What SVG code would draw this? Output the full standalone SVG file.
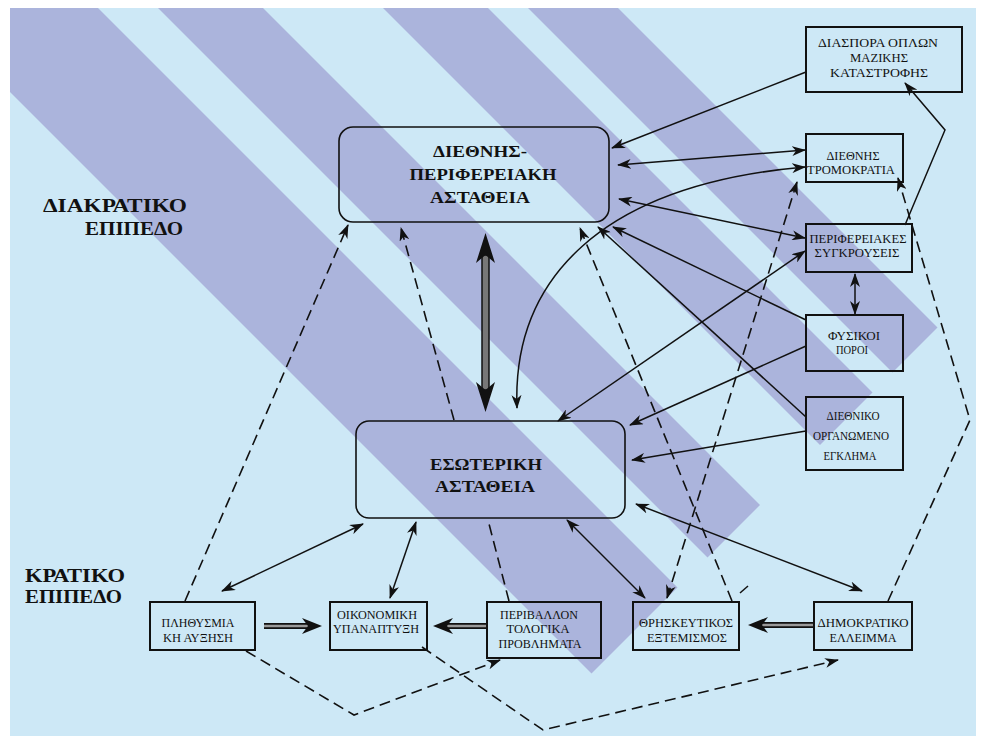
<svg xmlns="http://www.w3.org/2000/svg" width="985" height="742" viewBox="0 0 985 742">
<style>
.bg{fill:#cde8f6}
.stripe{fill:#abb4dc}
.box{fill:none;stroke:#111;stroke-width:2}
.rbox{fill:none;stroke:#111;stroke-width:1.6}
text{font-family:"Liberation Serif","DejaVu Serif",serif;fill:#111}
.t{text-anchor:middle;font-size:12px}
.tb{font-weight:bold;text-anchor:middle;font-size:17px}
.lbl{font-weight:bold;font-size:19px}
.ln{fill:none;stroke:#111;stroke-width:1.5}
.dash{fill:none;stroke:#111;stroke-width:1.6;stroke-dasharray:11 6}
.dbl-o{fill:none;stroke:#111;stroke-width:6}
.dbl-i{fill:none;stroke:#9a9a9a;stroke-width:2.4}
.head{fill:#111}
</style>
<defs>
<clipPath id="panel"><rect x="10" y="8" width="966" height="728"/></clipPath>
<marker id="ah" viewBox="0 0 14 10" refX="13" refY="5" markerWidth="14" markerHeight="10" markerUnits="userSpaceOnUse" orient="auto-start-reverse">
<path d="M0,0 L14,5 L0,10 L4,5 z" fill="#111"/>
</marker>
</defs>
<rect class="bg" x="10" y="8" width="966" height="728"/>
<g clip-path="url(#panel)">
<polygon class="stripe" points="-282,-200 -110,-200 677.5,587.5 591.5,673.5"/>
<polygon class="stripe" points="-50,-200 55,-200 760,505 707.5,557.5"/>
<polygon class="stripe" points="175,-200 280,-200 872.5,392.5 820,445"/>
<polygon class="stripe" points="320,-200 410,-200 937.5,327.5 892.5,372.5"/>
</g>
<g id="labels">
<text class="lbl" x="43" y="212" textLength="144" lengthAdjust="spacingAndGlyphs">ΔΙΑΚΡΑΤΙΚΟ</text>
<text class="lbl" x="85" y="235" textLength="98" lengthAdjust="spacingAndGlyphs">ΕΠΙΠΕΔΟ</text>
<text class="lbl" x="25" y="582" textLength="100" lengthAdjust="spacingAndGlyphs">ΚΡΑΤΙΚΟ</text>
<text class="lbl" x="25" y="603" textLength="97" lengthAdjust="spacingAndGlyphs">ΕΠΙΠΕΔΟ</text>
</g>
<g id="connectors">
<path class="ln" d="M806,72 L612,148" marker-end="url(#ah)"/>
<path class="ln" d="M805,150 L618,165" marker-start="url(#ah)" marker-end="url(#ah)"/>
<path class="ln" d="M805,238 L619,199" marker-start="url(#ah)" marker-end="url(#ah)"/>
<path class="ln" d="M805,251 L558,421" marker-start="url(#ah)" marker-end="url(#ah)"/>
<path class="ln" d="M905,225 L945,130 L905,83" marker-end="url(#ah)"/>
<path class="ln" d="M855,274 L855,314" marker-start="url(#ah)" marker-end="url(#ah)"/>
<path class="ln" d="M806,320 L613,227" marker-end="url(#ah)"/>
<path class="ln" d="M806,346 L630,425" marker-end="url(#ah)"/>
<path class="ln" d="M806,417 L598,227" marker-end="url(#ah)"/>
<path class="ln" d="M806,431 L632,460" marker-end="url(#ah)"/>
<path class="ln" d="M517,408 C512,280 600,185 805,167" marker-start="url(#ah)" marker-end="url(#ah)"/>
<path class="ln" d="M363,524 L222,591" marker-start="url(#ah)" marker-end="url(#ah)"/>
<path class="ln" d="M416,522 L390,598" marker-start="url(#ah)" marker-end="url(#ah)"/>
<path class="ln" d="M567,520 L645,598" marker-start="url(#ah)" marker-end="url(#ah)"/>
<path class="ln" d="M636,504 L862,591" marker-start="url(#ah)" marker-end="url(#ah)"/>
<path class="dash" d="M185,601 L348,225" marker-end="url(#ah)"/>
<path class="dash" d="M509,601 L488,520"/>
<path class="dash" d="M454,420 L401,228" marker-end="url(#ah)"/>
<path class="dash" d="M732,601 L580,228" marker-end="url(#ah)"/>
<path class="dash" d="M797,182 L667,598" marker-start="url(#ah)" marker-end="url(#ah)"/>
<path class="dash" d="M888,601 L970,420 L898,178" marker-end="url(#ah)"/>
<path class="dash" d="M246,651 L354,715 L500,660" marker-end="url(#ah)"/>
<path class="dash" d="M422,647 L543,730 L838,660" marker-end="url(#ah)"/>
<path class="ln" d="M740,593 L748,586"/>
<g id="dbl1">
<path class="dbl-o" d="M264,626 L310,626"/><path class="dbl-i" d="M264,626 L311,626"/>
<polygon class="head" points="322,626 302,618 308,626 302,634"/>
</g>
<g id="dbl2">
<path class="dbl-o" d="M487,626 L445,626"/><path class="dbl-i" d="M487,626 L444,626"/>
<polygon class="head" points="433,626 453,618 447,626 453,634"/>
</g>
<g id="dbl3">
<path class="dbl-o" d="M814,625 L760,625"/><path class="dbl-i" d="M814,625 L759,625"/>
<polygon class="head" points="748,625 768,617 762,625 768,633"/>
</g>
<g id="thick">
<rect x="482" y="255" width="7" height="135" fill="#777" stroke="#111" stroke-width="1.5"/>
<polygon class="head" points="485.5,233 495,263 485.5,255 476,263"/>
<polygon class="head" points="485.5,412 495,382 485.5,390 476,382"/>
</g>
</g>
<g id="n-diethnis">
<rect class="rbox" x="339" y="127" width="270" height="95" rx="14"/>
<text class="tb" x="480" y="157" textLength="94" lengthAdjust="spacingAndGlyphs">ΔΙΕΘΝΗΣ-</text>
<text class="tb" x="483" y="180" textLength="147" lengthAdjust="spacingAndGlyphs">ΠΕΡΙΦΕΡΕΙΑΚΗ</text>
<text class="tb" x="480" y="203" textLength="100" lengthAdjust="spacingAndGlyphs">ΑΣΤΑΘΕΙΑ</text>
</g>
<g id="n-esoteriki">
<rect class="rbox" x="356" y="421" width="269" height="97" rx="13"/>
<text class="tb" x="486" y="470" textLength="112" lengthAdjust="spacingAndGlyphs">ΕΣΩΤΕΡΙΚΗ</text>
<text class="tb" x="485" y="492" textLength="100" lengthAdjust="spacingAndGlyphs">ΑΣΤΑΘΕΙΑ</text>
</g>
<g id="n-diaspora">
<rect class="box" x="806" y="27" width="156" height="65"/>
<text class="t" font-size="13" x="878" y="47" textLength="120" lengthAdjust="spacingAndGlyphs">ΔΙΑΣΠΟΡΑ ΟΠΛΩΝ</text>
<text class="t" font-size="13" x="879" y="62" textLength="58" lengthAdjust="spacingAndGlyphs">ΜΑΖΙΚΗΣ</text>
<text class="t" font-size="13" x="879" y="77" textLength="98" lengthAdjust="spacingAndGlyphs">ΚΑΤΑΣΤΡΟΦΗΣ</text>
</g>
<g id="n-tromokratia">
<rect class="box" x="806" y="134" width="97" height="48"/>
<text class="t" x="853" y="160" textLength="53" lengthAdjust="spacingAndGlyphs">ΔΙΕΘΝΗΣ</text>
<text class="t" x="851" y="174" textLength="88" lengthAdjust="spacingAndGlyphs">ΤΡΟΜΟΚΡΑΤΙΑ</text>
</g>
<g id="n-sygkrouseis">
<rect class="box" x="806" y="224" width="106" height="48"/>
<text class="t" x="858" y="243" textLength="97" lengthAdjust="spacingAndGlyphs">ΠΕΡΙΦΕΡΕΙΑΚΕΣ</text>
<text class="t" x="857" y="257" textLength="85" lengthAdjust="spacingAndGlyphs">ΣΥΓΚΡΟΥΣΕΙΣ</text>
</g>
<g id="n-poroi">
<rect class="box" x="806" y="315" width="97" height="56"/>
<text class="t" x="854" y="340" textLength="52" lengthAdjust="spacingAndGlyphs">ΦΥΣΙΚΟΙ</text>
<text class="t" x="852" y="354" textLength="32" lengthAdjust="spacingAndGlyphs">ΠΟΡΟΙ</text>
</g>
<g id="n-egklima">
<rect class="box" x="806" y="397" width="97" height="73"/>
<text class="t" font-size="11" x="853" y="420" textLength="53" lengthAdjust="spacingAndGlyphs">ΔΙΕΘΝΙΚΟ</text>
<text class="t" font-size="11" x="851" y="440" textLength="76" lengthAdjust="spacingAndGlyphs">ΟΡΓΑΝΩΜΕΝΟ</text>
<text class="t" font-size="11" x="850" y="460" textLength="53" lengthAdjust="spacingAndGlyphs">ΕΓΚΛΗΜΑ</text>
</g>
<g id="n-plithysmos">
<rect class="box" x="150" y="602" width="105" height="48"/>
<text class="t" x="198" y="627" textLength="73" lengthAdjust="spacingAndGlyphs">ΠΛΗΘΥΣΜΙΑ</text>
<text class="t" x="198" y="642" textLength="70" lengthAdjust="spacingAndGlyphs">ΚΗ ΑΥΞΗΣΗ</text>
</g>
<g id="n-oikonomiki">
<rect class="box" x="330" y="602" width="97" height="48"/>
<text class="t" x="377" y="619" textLength="80" lengthAdjust="spacingAndGlyphs">ΟΙΚΟΝΟΜΙΚΗ</text>
<text class="t" x="376" y="633" textLength="86" lengthAdjust="spacingAndGlyphs">ΥΠΑΝΑΠΤΥΞΗ</text>
</g>
<g id="n-perivallon">
<rect class="box" x="487" y="602" width="114" height="56"/>
<text class="t" x="539" y="619" textLength="78" lengthAdjust="spacingAndGlyphs">ΠΕΡΙΒΑΛΛΟΝ</text>
<text class="t" x="538" y="633" textLength="63" lengthAdjust="spacingAndGlyphs">ΤΟΛΟΓΙΚΑ</text>
<text class="t" x="540" y="648" textLength="83" lengthAdjust="spacingAndGlyphs">ΠΡΟΒΛΗΜΑΤΑ</text>
</g>
<g id="n-thriskeftikos">
<rect class="box" x="633" y="602" width="106" height="48"/>
<text class="t" x="686" y="627" textLength="94" lengthAdjust="spacingAndGlyphs">ΘΡΗΣΚΕΥΤΙΚΟΣ</text>
<text class="t" x="687" y="642" textLength="80" lengthAdjust="spacingAndGlyphs">ΕΞΤΕΜΙΣΜΟΣ</text>
</g>
<g id="n-dimokratiko">
<rect class="box" x="814" y="602" width="98" height="48"/>
<text class="t" x="863" y="627" textLength="91" lengthAdjust="spacingAndGlyphs">ΔΗΜΟΚΡΑΤΙΚΟ</text>
<text class="t" x="863" y="642" textLength="67" lengthAdjust="spacingAndGlyphs">ΕΛΛΕΙΜΜΑ</text>
</g>
</svg>
